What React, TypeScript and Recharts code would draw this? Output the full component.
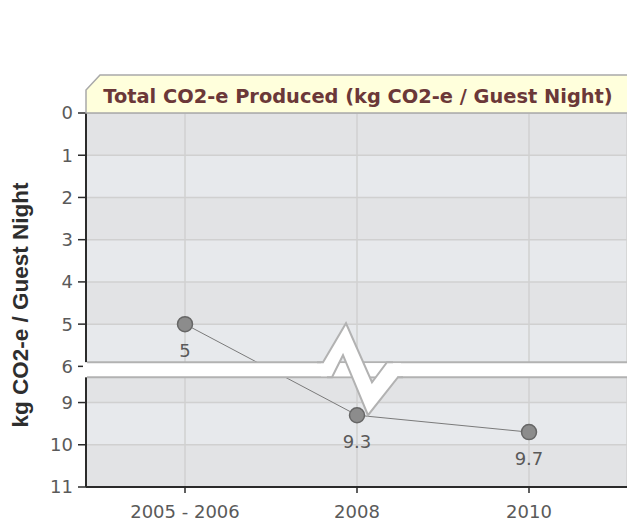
import React from 'react';
import {
  LineChart,
  Line,
  XAxis,
  YAxis,
  CartesianGrid,
  ReferenceArea,
  ReferenceDot,
  LabelList,
} from 'recharts';

// ---- data ----
const categories = ['2005 - 2006', '2008', '2010'];
const co2PerGuestNight = [5, 9.3, 9.7];
const yTickValues = [0, 1, 2, 3, 4, 5, 6, 9, 10, 11];
const chartTitle = 'Total CO2-e Produced (kg CO2-e / Guest Night)';
const yAxisTitle = 'kg CO2-e / Guest Night';

// ---- axis break (values between 6 and 9 are compressed) ----
const BREAK_FROM = 6;
const BREAK_TO = 9;
const BREAK_GAP = 0.857; // axis units that the 6..9 gap keeps
const BAND_TOP = 5.9; // white break band, in axis units
const BAND_BOTTOM = 6.26;
const PAD_LEFT = 99;
const PAD_RIGHT = 98;

const toAxis = (v: number) => {
  if (v <= BREAK_FROM) return v;
  if (v >= BREAK_TO) return v - (BREAK_TO - BREAK_FROM) + BREAK_GAP;
  return BREAK_FROM + ((v - BREAK_FROM) / (BREAK_TO - BREAK_FROM)) * BREAK_GAP;
};
const fromAxis = (a: number) => {
  const hit = yTickValues.find((t) => Math.abs(toAxis(t) - a) < 1e-6);
  return hit !== undefined ? String(hit) : '';
};

const data = categories.map((c, i) => ({
  category: c,
  value: co2PerGuestNight[i],
  axisValue: toAxis(co2PerGuestNight[i]),
}));

const FONT = '"DejaVu Sans", Verdana, sans-serif';
const TICK_COLOR = '#5a5a5a';

const BandShape = (props: any) => {
  const { x, y, width, height } = props;
  const top = Math.min(y, y + height);
  const h = Math.abs(height);
  const left = x - PAD_LEFT;
  const w = width + PAD_LEFT + PAD_RIGHT;
  return (
    <g>
      <rect x={left - 3} y={top} width={w + 3} height={h} fill="#ffffff" />
      <line x1={left + 1} x2={left + w} y1={top} y2={top} stroke="#b2b2b2" strokeWidth={2} />
      <line x1={left + 1} x2={left + w} y1={top + h} y2={top + h} stroke="#b2b2b2" strokeWidth={2} />
    </g>
  );
};

const ZigzagShape = (props: any) => {
  const { cx, cy } = props;
  const ty = cy - 7.5;
  const by = cy + 7.5;
  const upper = [
    [cx - 34, ty],
    [cx - 11, ty - 39],
    [cx + 15, ty + 20],
    [cx + 30, ty],
  ];
  const lower = [
    [cx - 25, by],
    [cx - 14, by - 22],
    [cx + 11, by + 38],
    [cx + 41, by],
  ];
  const poly = [...upper, ...lower.slice().reverse()].map((p) => p.join(',')).join(' ');
  const pl = (pts: number[][]) => pts.map((p) => p.join(',')).join(' ');
  return (
    <g>
      <polygon points={poly} fill="#ffffff" stroke="none" />
      <rect x={cx - 36} y={ty + 1} width={80} height={by - ty - 2} fill="#ffffff" />
      <polyline points={pl([[cx - 40, ty], ...upper, [cx + 36, ty]])} fill="none" stroke="#b2b2b2" strokeWidth={2} />
      <polyline points={pl([[cx - 30, by], ...lower, [cx + 46, by]])} fill="none" stroke="#b2b2b2" strokeWidth={2} />
    </g>
  );
};

const renderValueLabel = (props: any) => {
  const { x, y, value } = props;
  return (
    <text
      x={x}
      y={y + 33}
      textAnchor="middle"
      fontFamily={FONT}
      fontSize={18}
      fill={TICK_COLOR}
    >
      {value}
    </text>
  );
};

export default function App() {
  return (
    <div style={{ position: 'absolute', left: 0, top: 0, width: 627, height: 525 }}>
      <LineChart
        width={627}
        height={525}
        data={data}
        margin={{ top: 113, right: 0, bottom: 0, left: 0 }}
      >
        <CartesianGrid
          stroke="#d0d0d0"
          strokeWidth={1.5}
          horizontalFill={['#e2e3e5', '#e7e9ec']}
          fillOpacity={1}
        />
        <XAxis
          dataKey="category"
          height={38}
          padding={{ left: PAD_LEFT, right: PAD_RIGHT }}
          axisLine={{ stroke: '#2b2b2b', strokeWidth: 2 }}
          tickLine={{ stroke: '#2b2b2b', strokeWidth: 1.5 }}
          tickSize={6}
          tickMargin={12}
          tick={{ fontFamily: FONT, fontSize: 18, fill: TICK_COLOR }}
        />
        <YAxis
          width={86}
          type="number"
          reversed
          domain={[0, toAxis(11)]}
          ticks={yTickValues.map(toAxis)}
          tickFormatter={fromAxis}
          interval={0}
          allowDataOverflow
          axisLine={{ stroke: '#2b2b2b', strokeWidth: 2 }}
          tickLine={{ stroke: '#2b2b2b', strokeWidth: 1.5 }}
          tickSize={8}
          tickMargin={5}
          tick={{ fontFamily: FONT, fontSize: 18, fill: TICK_COLOR }}
        />
        <Line
          dataKey="axisValue"
          stroke="#7a7a7a"
          strokeWidth={1}
          dot={false}
          activeDot={false}
          isAnimationActive={false}
        />
        <ReferenceArea
          y1={BAND_TOP}
          y2={BAND_BOTTOM}
          shape={BandShape}
          ifOverflow="visible"
          zIndex={700}
        />
        <ReferenceDot
          x="2008"
          y={(BAND_TOP + BAND_BOTTOM) / 2}
          shape={ZigzagShape}
          ifOverflow="visible"
          zIndex={710}
        />
        <Line
          dataKey="axisValue"
          stroke="none"
          dot={{ r: 7.5, fill: '#8c8c8c', stroke: '#666666', strokeWidth: 1.5 }}
          activeDot={false}
          isAnimationActive={false}
          zIndex={800}
        >
          <LabelList dataKey="value" content={renderValueLabel} />
        </Line>
      </LineChart>
      <svg
        width={627}
        height={525}
        style={{ position: 'absolute', left: 0, top: 0, pointerEvents: 'none' }}
      >
        <path
          d="M86,113 L86,90 L100,75 L640,75 L640,113 Z"
          fill="#ffffdc"
          stroke="#a9a9a9"
          strokeWidth={1.5}
        />
        <text
          x={358}
          y={103}
          textAnchor="middle"
          fontFamily={FONT}
          fontWeight="bold"
          fontSize={19.4}
          fill="#6b3838"
        >
          {chartTitle}
        </text>
        <text
          x={0}
          y={0}
          transform="translate(28,305) rotate(-90)"
          textAnchor="middle"
          fontFamily='"Liberation Sans", Arial, sans-serif'
          fontWeight="bold"
          fontSize={22.5}
          fill="#2e2e2e"
        >
          {yAxisTitle}
        </text>
      </svg>
    </div>
  );
}
